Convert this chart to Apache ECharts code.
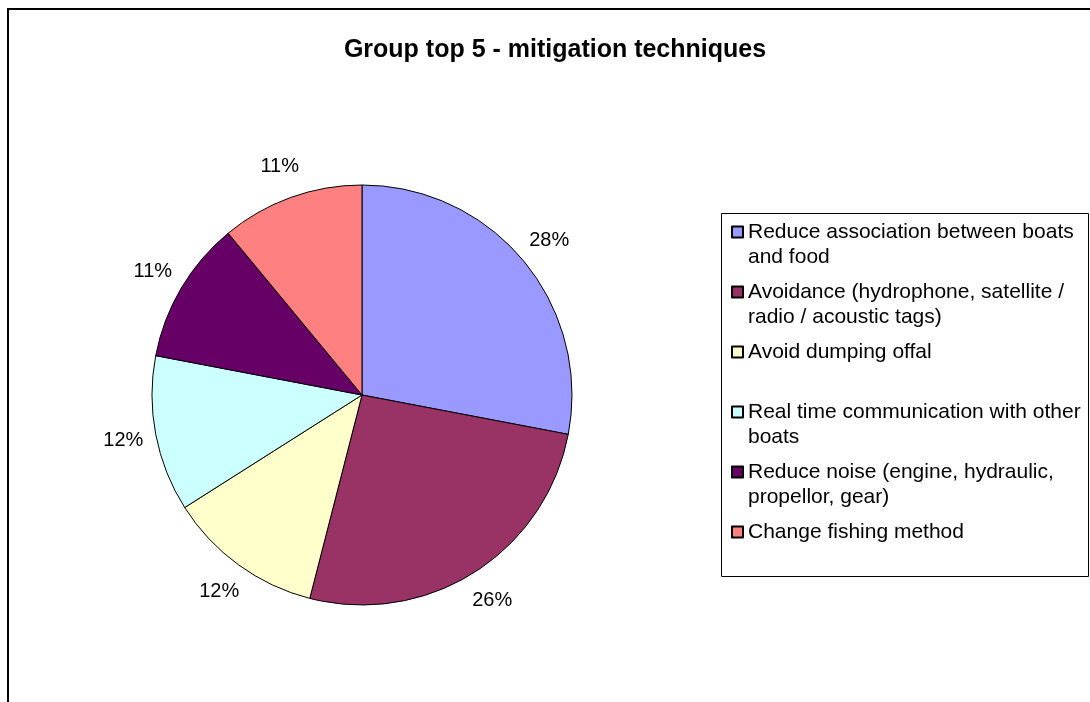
<!DOCTYPE html>
<html>
<head>
<meta charset="utf-8">
<title>Group top 5 - mitigation techniques</title>
<script src="https://cdn.jsdelivr.net/npm/echarts@6/dist/echarts.min.js"></script>
<style>
  html, body { margin: 0; padding: 0; background: #ffffff; }
  #chart { width: 1090px; height: 702px; }
</style>
</head>
<body>
<div id="chart"></div>
<script>
// Mitigation techniques, with the line breaks used in the legend
const categories = [
  'Reduce association between boats\nand food',
  'Avoidance (hydrophone, satellite /\nradio / acoustic tags)',
  'Avoid dumping offal',
  'Real time communication with other\nboats',
  'Reduce noise (engine, hydraulic,\npropellor, gear)',
  'Change fishing method'
];
// Share of responses, in percent
const shares = [28, 26, 12, 12, 11, 11];
const sliceColors = ['#9999FF', '#993366', '#FFFFCC', '#CCFFFF', '#660066', '#FF8080'];

const FONT = '"Liberation Sans", Arial, Helvetica, sans-serif';
const LINE_H = 25;
const MAX_LINES = Math.max(...categories.map(n => n.split('\n').length));
const BLOCK_LINES = 2 * MAX_LINES - 1; // every legend entry gets the same block height

const chart = echarts.init(document.getElementById('chart'), null, { renderer: 'canvas' });

const pieData = categories.map((name, i) => ({
  name: name,
  value: shares[i],
  itemStyle: { color: sliceColors[i] }
}));

// Legend text is centred on its marker; blank lines around each entry keep the
// marker level with the entry's first line and give all entries equal height.
function legendText(name) {
  const n = name.split('\n').length;
  return '\n'.repeat(MAX_LINES - 1) + name + '\n'.repeat(MAX_LINES - n);
}

const option = {
  backgroundColor: '#ffffff',
  animation: false,
  title: {
    text: 'Group top 5 - mitigation techniques',
    left: 550,
    top: 33,
    textAlign: 'center',
    textStyle: { fontFamily: FONT, fontSize: 25, fontWeight: 'bold', color: '#000' }
  },
  legend: {
    orient: 'vertical',
    left: 731,
    top: 232 - 5.5 - (BLOCK_LINES * LINE_H) / 2 + 5.5,
    padding: 0,
    itemGap: 60 - BLOCK_LINES * LINE_H,
    itemWidth: 11,
    itemHeight: 11,
    icon: 'rect',
    selectedMode: false,
    formatter: legendText,
    textStyle: { fontFamily: FONT, fontSize: 21, lineHeight: LINE_H, color: '#000' },
    data: categories
  },
  graphic: [
    {
      type: 'rect',
      z: -10,
      shape: { x: 8, y: 9, width: 1200, height: 800 },
      style: { fill: 'none', stroke: '#000', lineWidth: 2 },
      silent: true
    },
    {
      type: 'rect',
      z: -5,
      shape: { x: 721.5, y: 213.5, width: 367, height: 363 },
      style: { fill: '#ffffff', stroke: '#000', lineWidth: 1 },
      silent: true
    }
  ],
  series: [
    {
      name: 'slices',
      type: 'pie',
      center: [362, 395],
      radius: 210,
      startAngle: 90,
      clockwise: true,
      label: { show: false },
      labelLine: { show: false },
      emphasis: { disabled: true },
      itemStyle: { borderColor: '#000', borderWidth: 1 },
      data: pieData
    },
    {
      // invisible ring that carries the percentage labels just outside the pie
      name: 'labels',
      type: 'pie',
      center: [362, 395],
      radius: [226, 254],
      startAngle: 90,
      clockwise: true,
      silent: true,
      legendHoverLink: false,
      emphasis: { disabled: true },
      itemStyle: { color: 'rgba(0,0,0,0)', borderWidth: 0 },
      label: {
        show: true,
        position: 'inside',
        formatter: '{c}%',
        fontFamily: FONT,
        fontSize: 20,
        color: '#000'
      },
      labelLine: { show: false },
      data: categories.map((name, i) => ({ name: name, value: shares[i] }))
    }
  ]
};

chart.setOption(option);
</script>
</body>
</html>
